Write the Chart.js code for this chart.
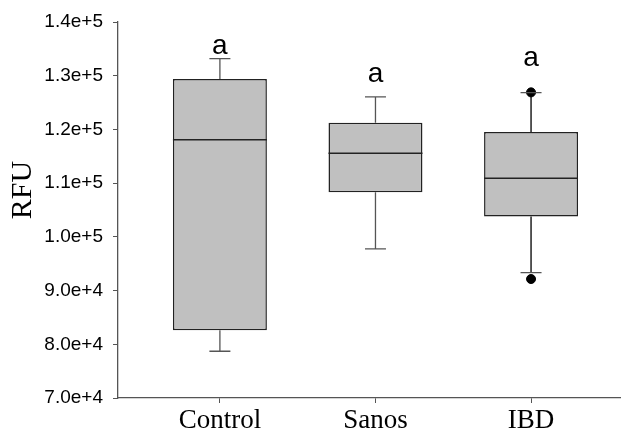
<!DOCTYPE html>
<html>
<head>
<meta charset="utf-8">
<script src="https://cdn.jsdelivr.net/npm/chart.js@4/dist/chart.umd.min.js"></script>
<style>
  html, body { margin: 0; padding: 0; background: #fff; }
  #wrap { width: 626px; height: 430px; }
</style>
</head>
<body>
<div id="wrap"><canvas id="chart"></canvas></div>
<script>
const categories = ['Control', 'Sanos', 'IBD']
const whiskerLow = [78700, 97750, 93350]
const q1 = [82600, 108300, 103800]
const median = [118100, 115550, 110900]
const q3 = [129400, 121250, 119500]
const whiskerHigh = [133200, 126050, 126850]
const outliers = [[], [], [126900, 92150]]
const letters = ['a', 'a', 'a']
const letterY = [134000, 128900, 131850]
const yTicks = [70000, 80000, 90000, 100000, 110000, 120000, 130000, 140000]
const yTitle = 'RFU'

const stemColors = ['#555', '#555', '#000']
const serif = '"Liberation Serif", "Times New Roman", serif'

// whiskers, medians, the letters above each box and the axis title
const boxExtras = {
  id: 'boxExtras',
  afterDatasetsDraw(chart) {
    const { ctx, scales: { x, y } } = chart
    const bar = chart.getDatasetMeta(0).data
    ctx.save()
    categories.forEach((c, i) => {
      const cx = x.getPixelForValue(i + 1)
      const half = bar[i].width / 2
      // stems
      ctx.strokeStyle = stemColors[i]
      ctx.lineWidth = 1.3
      ctx.beginPath()
      ctx.moveTo(cx, y.getPixelForValue(q3[i]))
      ctx.lineTo(cx, y.getPixelForValue(whiskerHigh[i]))
      ctx.moveTo(cx, y.getPixelForValue(q1[i]))
      ctx.lineTo(cx, y.getPixelForValue(whiskerLow[i]))
      ctx.stroke()
      // caps
      ctx.strokeStyle = '#555'
      ctx.beginPath()
      ;[whiskerHigh[i], whiskerLow[i]].forEach(v => {
        const py = y.getPixelForValue(v)
        ctx.moveTo(cx - 10.5, py)
        ctx.lineTo(cx + 10.5, py)
      })
      ctx.stroke()
      // median
      ctx.strokeStyle = '#222'
      ctx.lineWidth = 1.5
      ctx.beginPath()
      const my = y.getPixelForValue(median[i])
      ctx.moveTo(cx - half, my)
      ctx.lineTo(cx + half, my)
      ctx.stroke()
      // letter
      ctx.fillStyle = '#000'
      ctx.font = '28px "Liberation Sans", Arial, sans-serif'
      ctx.textAlign = 'center'
      ctx.textBaseline = 'alphabetic'
      ctx.fillText(letters[i], cx, y.getPixelForValue(letterY[i]))
    })
    // y title sits a bit above the middle of the axis in the original
    ctx.translate(23, (y.top + y.bottom) / 2 - 20)
    ctx.rotate(-Math.PI / 2)
    ctx.font = '30px ' + serif
    ctx.textAlign = 'center'
    ctx.textBaseline = 'middle'
    ctx.fillText(yTitle, 0, 0)
    ctx.restore()
  }
}

const outlierPoints = []
outliers.forEach((list, i) => list.forEach(v => outlierPoints.push({ x: i + 1, y: v })))

new Chart(document.getElementById('chart'), {
  type: 'bar',
  data: {
    datasets: [{
      type: 'bar',
      data: categories.map((c, i) => ({ x: i + 1, y: [q1[i], q3[i]] })),
      backgroundColor: '#c0c0c0',
      borderColor: '#222',
      borderWidth: 1.5,
      borderSkipped: false,
      barPercentage: 1,
      categoryPercentage: 0.604,
      order: 2
    }, {
      type: 'scatter',
      data: outlierPoints,
      backgroundColor: '#000',
      borderColor: '#000',
      pointRadius: 4.5,
      order: 1
    }]
  },
  options: {
    responsive: true,
    maintainAspectRatio: false,
    animation: false,
    layout: { padding: { top: 22, right: 2, left: 0, bottom: 0 } },
    plugins: { legend: { display: false }, tooltip: { enabled: false } },
    scales: {
      x: {
        type: 'linear',
        min: 0.345,
        max: 3.575,
        offset: false,
        afterBuildTicks: s => { s.ticks = categories.map((c, i) => ({ value: i + 1 })) },
        afterFit: s => { s.height = 32 },
        grid: { offset: false, drawOnChartArea: false, drawTicks: true, tickLength: 5, color: '#555' },
        border: { color: '#555', width: 1.3 },
        ticks: {
          color: '#000',
          padding: 2,
          maxRotation: 0,
          autoSkip: false,
          font: { family: serif, size: 27 },
          callback: v => categories[v - 1]
        }
      },
      y: {
        min: 70000,
        max: 140000,
        afterBuildTicks: s => { s.ticks = yTicks.map(v => ({ value: v })) },
        afterFit: s => { s.width = 118 },
        grid: { drawOnChartArea: false, drawTicks: true, tickLength: 5, color: '#555' },
        border: { color: '#555', width: 1.3 },
        ticks: {
          color: '#000',
          padding: 10,
          font: { family: '"Liberation Sans", Arial, sans-serif', size: 19 },
          callback: v => Number(v).toExponential(1)
        }
      }
    }
  },
  plugins: [boxExtras]
})
</script>
</body>
</html>
